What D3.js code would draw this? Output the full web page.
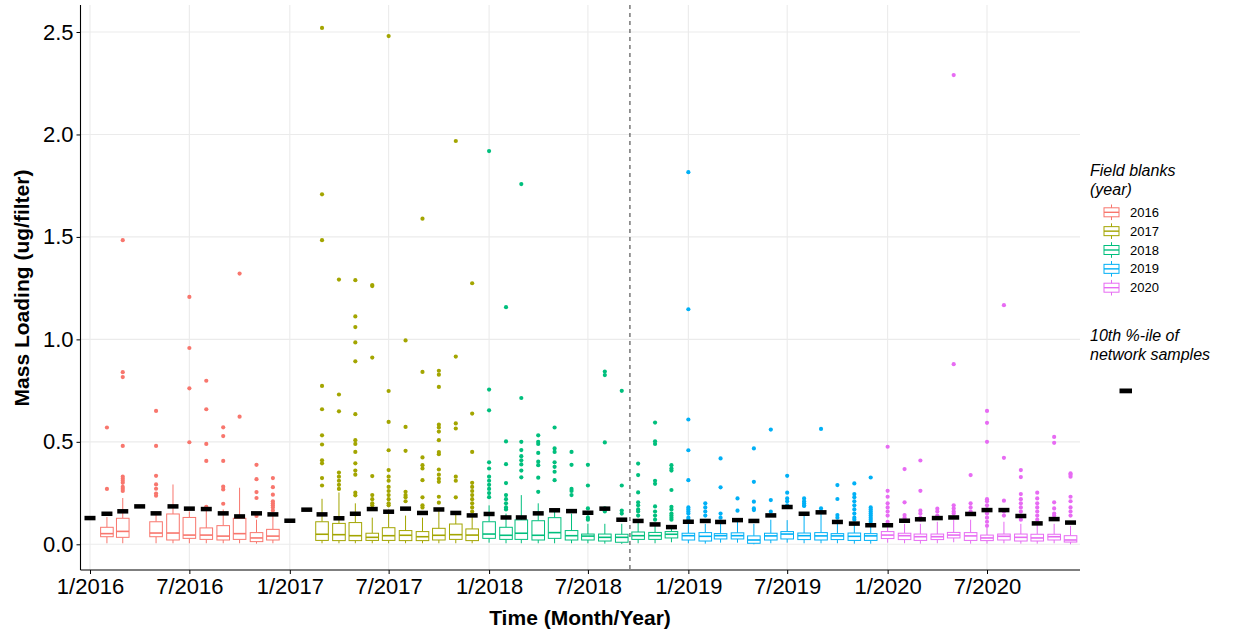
<!DOCTYPE html>
<html>
<head>
<meta charset="utf-8">
<script src="https://cdn.jsdelivr.net/npm/d3@7"></script>
<style>
  body { margin: 0; background: #fff; }
  svg text { font-family: "Liberation Sans", Arial, sans-serif; }
</style>
</head>
<body>
<svg id="chart" width="1238" height="633"></svg>
<script>
//Data ----------
const years = ["2016", "2017", "2018", "2019", "2020"];
const yearColors = ["#F8766D", "#A3A500", "#00BF7D", "#00B0F6", "#E76BF3"];

//10th percentile of network samples, one per month Jan 2016 - Dec 2020
const pctMonths = d3.range(60).map((i) => d3.utcMonth.offset(new Date(Date.UTC(2016, 0, 1)), i));
const pct10 = [
  0.128, 0.149, 0.161, 0.185, 0.151, 0.185, 0.174, 0.172, 0.151, 0.136, 0.151, 0.146,
  0.115, 0.169, 0.146, 0.127, 0.149, 0.172, 0.159, 0.174, 0.153, 0.170, 0.153, 0.141,
  0.148, 0.131, 0.131, 0.151, 0.166, 0.162, 0.154, 0.174, 0.120, 0.114, 0.097, 0.084,
  0.110, 0.114, 0.109, 0.118, 0.114, 0.141, 0.182, 0.149, 0.156, 0.109, 0.101, 0.093,
  0.093, 0.115, 0.122, 0.128, 0.131, 0.148, 0.167, 0.167, 0.138, 0.102, 0.123, 0.106
];

//Field blank boxplots
const boxMonths = [
  "2016-02", "2016-03", "2016-05", "2016-06", "2016-07", "2016-08", "2016-09", "2016-10", "2016-11", "2016-12",
  "2017-03", "2017-04", "2017-05", "2017-06", "2017-07", "2017-08", "2017-09", "2017-10", "2017-11", "2017-12",
  "2018-01", "2018-02", "2018-03", "2018-04", "2018-05", "2018-06", "2018-07", "2018-08", "2018-09", "2018-10", "2018-11", "2018-12",
  "2019-01", "2019-02", "2019-03", "2019-04", "2019-05", "2019-06", "2019-07", "2019-08", "2019-09", "2019-10", "2019-11", "2019-12",
  "2020-01", "2020-02", "2020-03", "2020-04", "2020-05", "2020-06", "2020-07", "2020-08", "2020-09", "2020-10", "2020-11", "2020-12"
];
const boxLow = [
  0.005, 0.005, 0.005, 0.005, 0.005, 0.005, 0.005, 0.005, 0.003, 0.005,
  0.005, 0.005, 0.005, 0.005, 0.005, 0.005, 0.005, 0.005, 0.005, 0.005,
  0.008, 0.005, 0.005, 0.005, 0.005, 0.005, 0.005, 0.003, 0.002, 0.005, 0.005, 0.010,
  0.005, 0.003, 0.008, 0.008, 0.000, 0.005, 0.008, 0.005, 0.005, 0.005, 0.003, 0.003,
  0.008, 0.005, 0.003, 0.005, 0.010, 0.003, 0.003, 0.005, 0.003, 0.003, 0.005, 0.000
];
const boxQ1 = [
  0.037, 0.034, 0.037, 0.021, 0.029, 0.024, 0.021, 0.024, 0.013, 0.021,
  0.019, 0.018, 0.018, 0.019, 0.019, 0.018, 0.018, 0.021, 0.024, 0.018,
  0.029, 0.024, 0.024, 0.021, 0.029, 0.021, 0.021, 0.016, 0.010, 0.024, 0.024, 0.031,
  0.021, 0.016, 0.026, 0.026, 0.005, 0.021, 0.026, 0.023, 0.021, 0.023, 0.019, 0.019,
  0.028, 0.023, 0.019, 0.023, 0.031, 0.019, 0.018, 0.021, 0.016, 0.016, 0.021, 0.011
];
const boxMed = [
  0.052, 0.063, 0.055, 0.055, 0.045, 0.045, 0.040, 0.052, 0.031, 0.040,
  0.049, 0.047, 0.042, 0.034, 0.042, 0.044, 0.037, 0.044, 0.047, 0.045,
  0.050, 0.044, 0.054, 0.044, 0.057, 0.042, 0.040, 0.034, 0.034, 0.042, 0.042, 0.049,
  0.042, 0.039, 0.042, 0.042, 0.021, 0.041, 0.050, 0.042, 0.041, 0.041, 0.039, 0.041,
  0.045, 0.042, 0.037, 0.037, 0.045, 0.041, 0.031, 0.039, 0.034, 0.031, 0.037, 0.021
];
const boxQ3 = [
  0.083, 0.127, 0.110, 0.148, 0.131, 0.080, 0.091, 0.127, 0.057, 0.073,
  0.110, 0.102, 0.106, 0.054, 0.081, 0.067, 0.062, 0.078, 0.099, 0.075,
  0.110, 0.083, 0.119, 0.115, 0.130, 0.067, 0.050, 0.050, 0.049, 0.060, 0.058, 0.062,
  0.054, 0.057, 0.052, 0.056, 0.041, 0.054, 0.062, 0.055, 0.057, 0.052, 0.055, 0.052,
  0.062, 0.054, 0.050, 0.050, 0.058, 0.057, 0.045, 0.050, 0.050, 0.049, 0.049, 0.042
];
const boxHigh = [
  0.133, 0.226, 0.150, 0.292, 0.160, 0.165, 0.170, 0.276, 0.120, 0.140,
  0.222, 0.253, 0.200, 0.130, 0.170, 0.140, 0.130, 0.170, 0.160, 0.140,
  0.190, 0.150, 0.240, 0.200, 0.170, 0.150, 0.100, 0.100, 0.100, 0.110, 0.090, 0.090,
  0.100, 0.100, 0.100, 0.110, 0.100, 0.120, 0.118, 0.140, 0.150, 0.100, 0.100, 0.100,
  0.100, 0.100, 0.100, 0.110, 0.120, 0.120, 0.080, 0.110, 0.100, 0.100, 0.100, 0.090
];
const boxOutliers = [
  [0.27, 0.57],
  [0.26, 0.27, 0.28, 0.30, 0.31, 0.32, 0.33, 0.48, 0.816, 0.84, 1.484],
  [0.237, 0.248, 0.271, 0.292, 0.334, 0.48, 0.651],
  [],
  [0.498, 0.761, 0.958, 1.207],
  [0.175, 0.183, 0.407, 0.49, 0.659, 0.798],
  [0.198, 0.268, 0.281, 0.407, 0.528, 0.571],
  [0.623, 1.321],
  [0.138, 0.226, 0.255, 0.318, 0.388],
  [0.165, 0.18, 0.19, 0.2, 0.21, 0.242, 0.279, 0.323],
  //2017
  [0.287, 0.323, 0.395, 0.41, 0.487, 0.532, 0.659, 0.773, 1.484, 1.708, 2.52],
  [0.27, 0.29, 0.31, 0.33, 0.35, 0.649, 0.731, 1.292],
  [0.239, 0.252, 0.34, 0.36, 0.395, 0.451, 0.49, 0.508, 0.635, 0.893, 0.985, 1.06, 1.112, 1.289],
  [0.19, 0.2, 0.22, 0.24, 0.333, 0.911, 1.26, 1.265],
  [0.19, 0.2, 0.22, 0.24, 0.26, 0.28, 0.31, 0.33, 0.362, 0.459, 0.597, 0.748, 2.48],
  [0.21, 0.23, 0.24, 0.256, 0.456, 0.573, 0.995],
  [0.18, 0.19, 0.229, 0.313, 0.37, 0.386, 0.424, 0.841, 1.589],
  [0.203, 0.232, 0.305, 0.32, 0.34, 0.365, 0.44, 0.45, 0.508, 0.55, 0.57, 0.584, 0.768, 0.828, 0.847],
  [0.229, 0.31, 0.33, 0.565, 0.59, 0.916, 1.968],
  [0.16, 0.18, 0.2, 0.22, 0.24, 0.26, 0.28, 0.3, 0.451, 0.638, 1.274],
  //2018
  [0.23, 0.25, 0.27, 0.29, 0.31, 0.33, 0.37, 0.40, 0.654, 0.755, 1.919],
  [0.17, 0.18, 0.2, 0.22, 0.24, 0.299, 0.391, 0.502, 1.157],
  [0.327, 0.36, 0.39, 0.41, 0.43, 0.46, 0.5, 0.714, 1.758],
  [0.256, 0.325, 0.386, 0.403, 0.446, 0.49, 0.50, 0.532],
  [0.313, 0.354, 0.378, 0.40, 0.451, 0.468, 0.57],
  [0.24, 0.26, 0.27, 0.388, 0.451],
  [0.12, 0.13, 0.15, 0.175, 0.287, 0.388],
  [0.16, 0.175, 0.497, 0.826, 0.843],
  [0.15, 0.165, 0.287, 0.749],
  [0.14, 0.16, 0.17, 0.19, 0.205, 0.253, 0.338, 0.394],
  [0.12, 0.14, 0.16, 0.185, 0.295, 0.31, 0.49, 0.503, 0.594],
  [0.12, 0.13, 0.14, 0.15, 0.17, 0.183, 0.265, 0.36, 0.37, 0.386],
  //2019
  [0.12, 0.13, 0.15, 0.16, 0.17, 0.18, 0.313, 0.459, 0.609, 1.147, 1.816],
  [0.14, 0.16, 0.18, 0.2],
  [0.13, 0.15, 0.278, 0.419],
  [0.164, 0.224],
  [0.167, 0.175, 0.208, 0.305, 0.468],
  [0.159, 0.216, 0.56],
  [0.19, 0.21, 0.224, 0.252, 0.334],
  [0.187, 0.19, 0.2, 0.21, 0.224],
  [0.159, 0.175, 0.563],
  [0.11, 0.13, 0.143, 0.221, 0.289],
  [0.12, 0.13, 0.15, 0.17, 0.19, 0.21, 0.23, 0.245, 0.297],
  [0.11, 0.12, 0.13, 0.14, 0.15, 0.16, 0.17, 0.18, 0.326],
  //2020
  [0.11, 0.14, 0.16, 0.18, 0.2, 0.232, 0.261, 0.476],
  [0.12, 0.13, 0.143, 0.205, 0.367],
  [0.12, 0.13, 0.15, 0.164, 0.261, 0.409],
  [0.14, 0.16, 0.174],
  [0.15, 0.16, 0.175, 0.19, 0.879, 2.29],
  [0.16, 0.18, 0.2, 0.338],
  [0.09, 0.11, 0.13, 0.15, 0.17, 0.19, 0.21, 0.22, 0.5, 0.593, 0.651],
  [0.14, 0.16, 0.213, 0.422, 1.167],
  [0.12, 0.14, 0.16, 0.18, 0.2, 0.22, 0.245, 0.328, 0.362],
  [0.12, 0.14, 0.16, 0.18, 0.2, 0.224, 0.252],
  [0.14, 0.15, 0.175, 0.205, 0.495, 0.524],
  [0.14, 0.16, 0.18, 0.21, 0.232, 0.33, 0.34, 0.346]
];

const yTicks = [0, 0.5, 1.0, 1.5, 2.0, 2.5];
const xTicks = ["2016-01", "2016-07", "2017-01", "2017-07", "2018-01", "2018-07", "2019-01", "2019-07", "2020-01", "2020-07"];
const breakDate = "2018-09-16";

//Layout ----------
const panel = { left: 80.5, right: 1080, top: 5, bottom: 570 };
const parseMonth = d3.utcParse("%Y-%m");
const parseDay = d3.utcParse("%Y-%m-%d");

const x = d3
  .scaleUtc()
  .domain([parseMonth("2016-01"), parseMonth("2020-07")])
  .range([90, 987]);
const y = d3.scaleLinear().domain([0, 2.5]).range([544.3, 32]);
const color = d3.scaleOrdinal().domain(years).range(yearColors);

const boxW = 12.6;
const dashW = 11;
const dashH = 4.5;

const svg = d3.select("#chart");

//Gridlines
const grid = svg.append("g").attr("id", "grid");
grid
  .selectAll("line.gy")
  .data(yTicks)
  .join("line")
  .attr("class", "gy")
  .attr("x1", panel.left)
  .attr("x2", panel.right)
  .attr("y1", (d) => y(d))
  .attr("y2", (d) => y(d))
  .attr("stroke", "#EBEBEB")
  .attr("stroke-width", 1.1);
grid
  .selectAll("line.gx")
  .data(xTicks.map(parseMonth))
  .join("line")
  .attr("class", "gx")
  .attr("x1", (d) => x(d))
  .attr("x2", (d) => x(d))
  .attr("y1", panel.top)
  .attr("y2", panel.bottom)
  .attr("stroke", "#EBEBEB")
  .attr("stroke-width", 1.1);

//Boxplots
const boxes = boxMonths.map((m, i) => ({
  date: parseMonth(m),
  year: m.slice(0, 4),
  lo: boxLow[i],
  q1: boxQ1[i],
  med: boxMed[i],
  q3: boxQ3[i],
  hi: boxHigh[i],
  out: boxOutliers[i]
}));

const bx = svg
  .append("g")
  .attr("id", "boxes")
  .selectAll("g")
  .data(boxes)
  .join("g")
  .attr("stroke", (d) => color(d.year))
  .attr("fill", "none");

//whiskers
bx.append("line")
  .attr("x1", (d) => x(d.date))
  .attr("x2", (d) => x(d.date))
  .attr("y1", (d) => y(d.q3))
  .attr("y2", (d) => y(d.hi))
  .attr("stroke-width", 1);
bx.append("line")
  .attr("x1", (d) => x(d.date))
  .attr("x2", (d) => x(d.date))
  .attr("y1", (d) => y(d.q1))
  .attr("y2", (d) => y(d.lo))
  .attr("stroke-width", 1);
//box
bx.append("rect")
  .attr("x", (d) => x(d.date) - boxW / 2)
  .attr("width", boxW)
  .attr("y", (d) => y(d.q3))
  .attr("height", (d) => y(d.q1) - y(d.q3))
  .attr("fill", "#fff")
  .attr("stroke-width", 1);
//median
bx.append("line")
  .attr("x1", (d) => x(d.date) - boxW / 2)
  .attr("x2", (d) => x(d.date) + boxW / 2)
  .attr("y1", (d) => y(d.med))
  .attr("y2", (d) => y(d.med))
  .attr("stroke-width", 1.6);
//outliers
bx.selectAll("circle")
  .data((d) => d.out.map((v) => ({ date: d.date, year: d.year, v: v })))
  .join("circle")
  .attr("cx", (d) => x(d.date))
  .attr("cy", (d) => y(d.v))
  .attr("r", 2.1)
  .attr("stroke", "none")
  .attr("fill", (d) => color(d.year));

//10th percentile dashes
svg
  .append("g")
  .attr("id", "pct10")
  .selectAll("rect")
  .data(pctMonths.map((d, i) => ({ date: d, v: pct10[i] })))
  .join("rect")
  .attr("x", (d) => x(d.date) - dashW / 2)
  .attr("y", (d) => y(d.v) - dashH / 2)
  .attr("width", dashW)
  .attr("height", dashH)
  .attr("fill", "#000");

//Vertical dashed line
svg
  .append("line")
  .attr("x1", x(parseDay(breakDate)))
  .attr("x2", x(parseDay(breakDate)))
  .attr("y1", panel.top)
  .attr("y2", panel.bottom)
  .attr("stroke", "#333")
  .attr("stroke-width", 1)
  .attr("stroke-dasharray", "4,4");

//Axes ----------
const xAxis = d3
  .axisBottom(x)
  .tickValues(xTicks.map(parseMonth))
  .tickFormat(d3.utcFormat("%-m/%Y"))
  .tickSize(4)
  .tickPadding(4);
const gx = svg
  .append("g")
  .attr("transform", `translate(0,${panel.bottom})`)
  .call(xAxis);
gx.select(".domain").remove();
gx.selectAll("line").attr("stroke", "#000");
gx.selectAll("text")
  .attr("font-size", 22)
  .attr("fill", "#000")
  .attr("font-family", "Liberation Sans, Arial, sans-serif");

const yAxis = d3
  .axisLeft(y)
  .tickValues(yTicks)
  .tickFormat(d3.format(".1f"))
  .tickSize(4)
  .tickPadding(3);
const gy = svg
  .append("g")
  .attr("transform", `translate(${panel.left},0)`)
  .call(yAxis);
gy.select(".domain").remove();
gy.selectAll("line").attr("stroke", "#000");
gy.selectAll("text")
  .attr("font-size", 22)
  .attr("fill", "#000")
  .attr("font-family", "Liberation Sans, Arial, sans-serif");

//axis lines
svg
  .append("line")
  .attr("x1", panel.left)
  .attr("x2", panel.left)
  .attr("y1", panel.top)
  .attr("y2", panel.bottom)
  .attr("stroke", "#000")
  .attr("stroke-width", 1.1);
svg
  .append("line")
  .attr("x1", panel.left)
  .attr("x2", panel.right)
  .attr("y1", panel.bottom)
  .attr("y2", panel.bottom)
  .attr("stroke", "#000")
  .attr("stroke-width", 1.1);

//Axis titles
svg
  .append("text")
  .attr("x", 580)
  .attr("y", 625)
  .attr("text-anchor", "middle")
  .attr("font-size", 21)
  .attr("font-weight", "bold")
  .text("Time (Month/Year)");
svg
  .append("text")
  .attr("transform", "translate(29,288) rotate(-90)")
  .attr("text-anchor", "middle")
  .attr("font-size", 21)
  .attr("font-weight", "bold")
  .text("Mass Loading (ug/filter)");

//Legend ----------
const legend = svg.append("g").attr("id", "legend");
legend
  .append("text")
  .attr("x", 1090)
  .attr("y", 176)
  .attr("font-size", 16)
  .attr("font-style", "italic")
  .text("Field blanks");
legend
  .append("text")
  .attr("x", 1090)
  .attr("y", 194.5)
  .attr("font-size", 16)
  .attr("font-style", "italic")
  .text("(year)");

const items = legend
  .selectAll("g.item")
  .data(years)
  .join("g")
  .attr("class", "item")
  .attr("transform", (d, i) => `translate(1111.5,${212.3 + i * 18.85})`);
items
  .append("line")
  .attr("y1", -7.8)
  .attr("y2", 7.8)
  .attr("stroke", (d) => color(d));
items
  .append("rect")
  .attr("x", -7.5)
  .attr("y", -4.5)
  .attr("width", 15)
  .attr("height", 9)
  .attr("fill", "#fff")
  .attr("stroke", (d) => color(d));
items
  .append("line")
  .attr("x1", -7.5)
  .attr("x2", 7.5)
  .attr("stroke", (d) => color(d))
  .attr("stroke-width", 1.4);
items
  .append("text")
  .attr("x", 18.5)
  .attr("y", 4.6)
  .attr("font-size", 13)
  .text((d) => d);

legend
  .append("text")
  .attr("x", 1090)
  .attr("y", 341)
  .attr("font-size", 16)
  .attr("font-style", "italic")
  .text("10th %-ile of");
legend
  .append("text")
  .attr("x", 1090)
  .attr("y", 359.5)
  .attr("font-size", 16)
  .attr("font-style", "italic")
  .text("network samples");
legend
  .append("rect")
  .attr("x", 1119.5)
  .attr("y", 388.5)
  .attr("width", 12.5)
  .attr("height", 4.8)
  .attr("fill", "#000");
</script>
</body>
</html>
